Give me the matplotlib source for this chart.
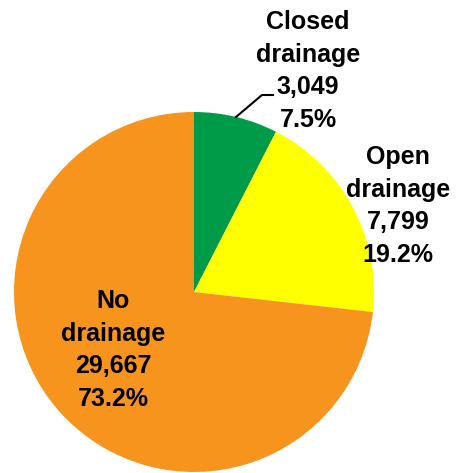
import matplotlib.pyplot as plt

categories = ['Closed\ndrainage', 'Open\ndrainage', 'No\ndrainage']
values = [3049, 7799, 29667]
colors = ['#009B48', '#FFFF00', '#F7941D']

total = sum(values)
labels = ['{}\n{:,}\n{:.1f}%'.format(c, v, 100 * v / total) for c, v in zip(categories, values)]

fig = plt.figure(figsize=(4.6, 4.73), dpi=100)
W, H = 460, 473
cx, cy, r = 194, 292, 180
ax = fig.add_axes([(cx - r) / W, (H - cy - r) / H, 2 * r / W, 2 * r / H])
ax.pie(values, colors=colors, startangle=90, counterclock=False, radius=1,
       wedgeprops=dict(linewidth=0))
ax.set_xlim(-1, 1)
ax.set_ylim(-1, 1)
ax.set_aspect('equal')
ax.axis('off')

font = dict(family=['Liberation Sans Narrow', 'Liberation Sans'], fontsize=18,
            fontweight='bold', ha='center', va='center', linespacing=1.47,
            clip_on=False)

def px(x, y):
    return (x - cx) / r, (cy - y) / r

label_pos = [px(308, 71), px(398, 206), px(113, 350)]
for lab, (x, y) in zip(labels, label_pos):
    ax.text(x, y, lab, **font)

# leader line for the small slice
lx, ly = zip(px(236, 117), px(262, 95), px(273, 95))
ax.plot(lx, ly, color='black', lw=1.5, clip_on=False)

fig.savefig('out.png', dpi=100)
